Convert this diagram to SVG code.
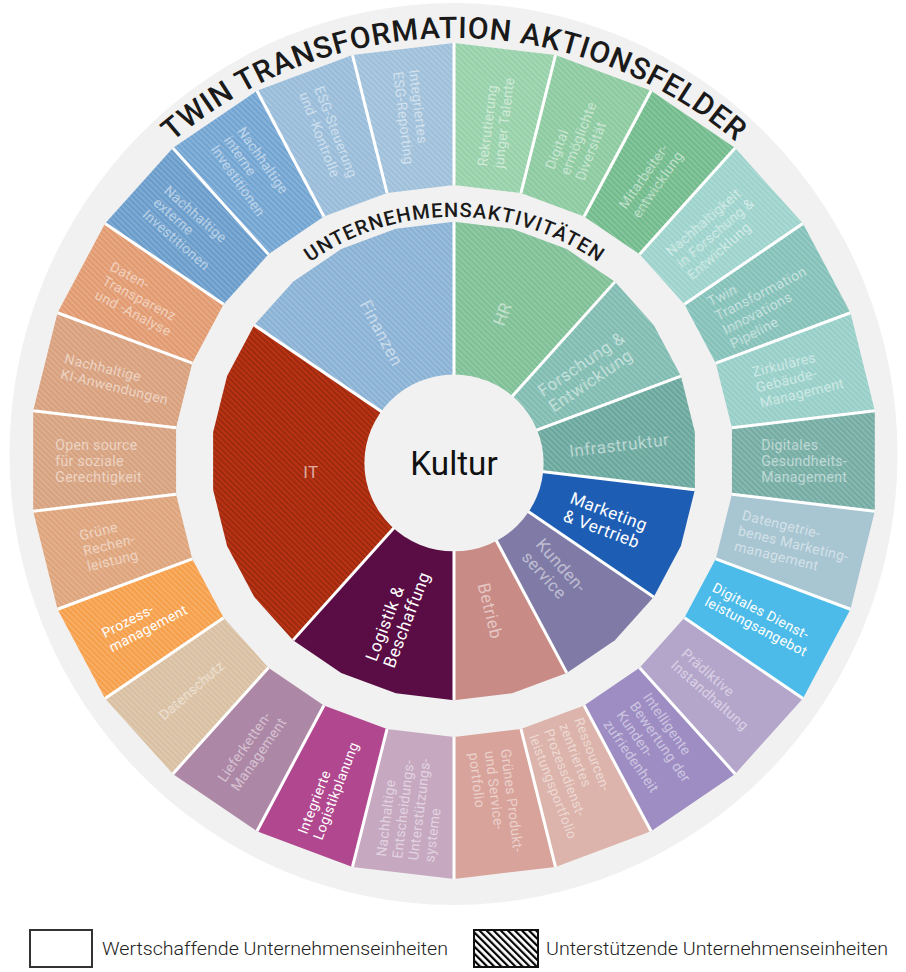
<svg xmlns="http://www.w3.org/2000/svg" width="906" height="972" viewBox="0 0 906 972">
<defs>
<pattern id="hl" width="4" height="4" patternUnits="userSpaceOnUse" patternTransform="rotate(-45)"><rect width="1.5" height="4" fill="#ffffff" fill-opacity="0.17"/></pattern>
<pattern id="hd" width="4" height="4" patternUnits="userSpaceOnUse" patternTransform="rotate(-45)"><rect width="2" height="4" fill="#000000" fill-opacity="0.17"/></pattern>
<pattern id="hb" width="5" height="5" patternUnits="userSpaceOnUse" patternTransform="rotate(-45)"><rect width="5" height="5" fill="#ffffff"/><rect width="2.2" height="5" fill="#000000"/></pattern>
<path id="arcOuter" d="M -426 0 A 426 426 0 0 1 426 0"/>
<path id="arcInner" d="M -246 0 A 246 246 0 0 1 246 0"/>
<style>
.t{font-family:Roboto,"Open Sans","Liberation Sans",sans-serif;font-size:14px;letter-spacing:0.3px;fill:#ffffff;fill-opacity:0.5}
.tb{fill-opacity:1}
.ti{font-size:17px;letter-spacing:0.5px}
.ttl{font-family:Roboto,"Open Sans","Liberation Sans",sans-serif;font-weight:500;fill:#1a1a1a}
.lg{font-family:Roboto,"Liberation Sans",sans-serif;font-weight:300;font-size:18px;fill:#222}
.dv line{stroke:#ffffff;stroke-width:3}
</style>
</defs>
<rect width="906" height="972" fill="#ffffff"/>
<ellipse cx="453.5" cy="454" rx="444" ry="451" fill="#f1f1f1"/>
<g transform="translate(454 461) scale(1.007 0.993)">
<g id="outer-ring">
<g id="o0" fill="#97d1aa"><path id="p0" d="M0 -421L100.8 -408.8L66.5 -269.9L0 -278Z"/><use href="#p0" fill="url(#hl)"/><text class="t" transform="translate(42.1 -346.5) rotate(-83.08)"><tspan x="-51" y="-3">Rekrutierung</tspan><tspan x="-51" y="13">junger Talente</tspan></text></g>
<g id="o1" fill="#8ccaa0"><path id="p1" d="M100.8 -408.8L195.7 -372.8L129.2 -246.2L66.5 -269.9Z"/><use href="#p1" fill="url(#hl)"/><text class="t" transform="translate(123.8 -326.3) rotate(-69.23)"><tspan x="-40" y="-11">Digital</tspan><tspan x="-40" y="5">ermöglichte</tspan><tspan x="-40" y="21">Diversität</tspan></text></g>
<g id="o2" fill="#72bb8c"><path id="p2" d="M195.7 -372.8L279.2 -315.1L184.3 -208.1L129.2 -246.2Z"/><use href="#p2" fill="url(#hl)"/><text class="t" transform="translate(198.3 -287.2) rotate(-55.38)"><tspan x="-44" y="-3">Mitarbeiter-</tspan><tspan x="-44" y="13">entwicklung</tspan></text></g>
<g id="o3" fill="#9dd3cc"><path id="p3" d="M279.2 -315.1L346.5 -239.2L228.8 -157.9L184.3 -208.1Z"/><use href="#p3" fill="url(#hl)"/><text class="t" transform="translate(261.2 -231.4) rotate(-41.54)"><tspan x="-51" y="-11">Nachhaltigkeit</tspan><tspan x="-51" y="5">in Forschung &amp;</tspan><tspan x="-51" y="21">Entwicklung</tspan></text></g>
<g id="o4" fill="#84c1b9"><path id="p4" d="M346.5 -239.2L393.7 -149.3L259.9 -98.6L228.8 -157.9Z"/><use href="#p4" fill="url(#hl)"/><text class="t" transform="translate(309 -162.2) rotate(-27.69)"><tspan x="-51" y="-19">Twin</tspan><tspan x="-51" y="-3">Transformation</tspan><tspan x="-51" y="13">Innovations</tspan><tspan x="-51" y="29">Pipeline</tspan></text></g>
<g id="o5" fill="#97cfc8"><path id="p5" d="M393.7 -149.3L417.9 -50.7L276 -33.5L259.9 -98.6Z"/><use href="#p5" fill="url(#hl)"/><text class="t" transform="translate(338.9 -83.5) rotate(-13.85)"><tspan x="-40" y="-11">Zirkuläres</tspan><tspan x="-40" y="5">Gebäude-</tspan><tspan x="-40" y="21">Management</tspan></text></g>
<g id="o6" fill="#75ada4"><path id="p6" d="M417.9 -50.7L417.9 50.7L276 33.5L276 -33.5Z"/><use href="#p6" fill="url(#hl)"/><text class="t" transform="translate(349 0)"><tspan x="-44" y="-11">Digitales</tspan><tspan x="-44" y="5">Gesundheits-</tspan><tspan x="-44" y="21">Management</tspan></text></g>
<g id="o7" fill="#a8c5d2"><path d="M417.9 50.7L393.7 149.3L259.9 98.6L276 33.5Z"/><text class="t" transform="translate(338.9 83.5) rotate(13.85)"><tspan x="-58" y="-11">Datengetrie-</tspan><tspan x="-58" y="5">benes Marketing-</tspan><tspan x="-58" y="21">management</tspan></text></g>
<g id="o8" fill="#4cbbe9"><path d="M393.7 149.3L346.5 239.2L228.8 157.9L259.9 98.6Z"/><text class="t tb" transform="translate(309 162.2) rotate(27.69)"><tspan x="-62" y="-3">Digitales Dienst-</tspan><tspan x="-62" y="13">leistungsangebot</tspan></text></g>
<g id="o9" fill="#b4a6cb"><path d="M346.5 239.2L279.2 315.1L184.3 208.1L228.8 157.9Z"/><text class="t" transform="translate(261.2 231.4) rotate(41.54)"><tspan x="-51" y="-3">Prädiktive</tspan><tspan x="-51" y="13">Instandhaltung</tspan></text></g>
<g id="o10" fill="#9d8dc3"><path d="M279.2 315.1L195.7 372.8L129.2 246.2L184.3 208.1Z"/><text class="t" transform="translate(198.3 287.2) rotate(55.38)"><tspan x="-47" y="-19">Intelligente</tspan><tspan x="-47" y="-3">Bewertung der</tspan><tspan x="-47" y="13">Kunden-</tspan><tspan x="-47" y="29">zufriedenheit</tspan></text></g>
<g id="o11" fill="#dcb4ab"><path d="M195.7 372.8L100.8 408.8L66.5 269.9L129.2 246.2Z"/><text class="t" style="font-size:13.5px" transform="translate(123.8 326.3) rotate(69.23)"><tspan x="-63" y="-19">Ressourcen-</tspan><tspan x="-63" y="-3">zentriertes</tspan><tspan x="-63" y="13">Prozessdienst-</tspan><tspan x="-63" y="29">leistungsportfolio</tspan></text></g>
<g id="o12" fill="#d8a39a"><path d="M100.8 408.8L0 421L0 278L66.5 269.9Z"/><text class="t" transform="translate(42.1 346.5) rotate(83.08)"><tspan x="-55" y="-11">Grünes Produkt-</tspan><tspan x="-55" y="5">und Service-</tspan><tspan x="-55" y="21">portfolio</tspan></text></g>
<g id="o13" fill="#c6a8c1"><path d="M0 421L-100.8 408.8L-66.5 269.9L0 278Z"/><text class="t" transform="translate(-42.1 346.5) rotate(-83.08)"><tspan x="-55" y="-19">Nachhaltige</tspan><tspan x="-55" y="-3">Entscheidungs-</tspan><tspan x="-55" y="13">Unterstützungs-</tspan><tspan x="-55" y="29">systeme</tspan></text></g>
<g id="o14" fill="#b1478f"><path d="M-100.8 408.8L-195.7 372.8L-129.2 246.2L-66.5 269.9Z"/><text class="t tb" transform="translate(-123.8 326.3) rotate(-69.23)"><tspan x="-55" y="-3">Integrierte</tspan><tspan x="-55" y="13">Logistikplanung</tspan></text></g>
<g id="o15" fill="#ad87a6"><path d="M-195.7 372.8L-279.2 315.1L-184.3 208.1L-129.2 246.2Z"/><text class="t" transform="translate(-198.3 287.2) rotate(-55.38)"><tspan x="-47" y="-3">Lieferketten-</tspan><tspan x="-47" y="13">Management</tspan></text></g>
<g id="o16" fill="#d9c0a2"><path id="p16" d="M-279.2 315.1L-346.5 239.2L-228.8 157.9L-184.3 208.1Z"/><use href="#p16" fill="url(#hl)"/><text class="t" transform="translate(-261.2 231.4) rotate(-41.54)"><tspan x="-40" y="5">Datenschutz</tspan></text></g>
<g id="o17" fill="#f7a04b"><path id="p17" d="M-346.5 239.2L-393.7 149.3L-259.9 98.6L-228.8 157.9Z"/><use href="#p17" fill="url(#hl)"/><text class="t tb" transform="translate(-309 162.2) rotate(-27.69)"><tspan x="-41" y="-3">Prozess-</tspan><tspan x="-41" y="13">management</tspan></text></g>
<g id="o18" fill="#dea47c"><path id="p18" d="M-393.7 149.3L-417.9 50.7L-276 33.5L-259.9 98.6Z"/><use href="#p18" fill="url(#hl)"/><text class="t" transform="translate(-338.9 83.5) rotate(-13.85)"><tspan x="-30" y="-11">Grüne</tspan><tspan x="-30" y="5">Rechen-</tspan><tspan x="-30" y="21">leistung</tspan></text></g>
<g id="o19" fill="#d7a27f"><path id="p19" d="M-417.9 50.7L-417.9 -50.7L-276 -33.5L-276 33.5Z"/><use href="#p19" fill="url(#hl)"/><text class="t" transform="translate(-349 0)"><tspan x="-47" y="-11">Open source</tspan><tspan x="-47" y="5">für soziale</tspan><tspan x="-47" y="21">Gerechtigkeit</tspan></text></g>
<g id="o20" fill="#d8a07d"><path id="p20" d="M-417.9 -50.7L-393.7 -149.3L-259.9 -98.6L-276 -33.5Z"/><use href="#p20" fill="url(#hl)"/><text class="t" transform="translate(-338.9 -83.5) rotate(13.85)"><tspan x="-51" y="-3">Nachhaltige</tspan><tspan x="-51" y="13">KI-Anwendungen</tspan></text></g>
<g id="o21" fill="#e29b71"><path id="p21" d="M-393.7 -149.3L-346.5 -239.2L-228.8 -157.9L-259.9 -98.6Z"/><use href="#p21" fill="url(#hl)"/><text class="t" transform="translate(-309 -162.2) rotate(27.69)"><tspan x="-44" y="-11">Daten-</tspan><tspan x="-44" y="5">Transparenz</tspan><tspan x="-44" y="21">und -Analyse</tspan></text></g>
<g id="o22" fill="#6a9dcb"><path id="p22" d="M-346.5 -239.2L-279.2 -315.1L-184.3 -208.1L-228.8 -157.9Z"/><use href="#p22" fill="url(#hl)"/><text class="t" transform="translate(-261.2 -231.4) rotate(41.54)"><tspan x="-47" y="-11">Nachhaltige</tspan><tspan x="-47" y="5">externe</tspan><tspan x="-47" y="21">Investitionen</tspan></text></g>
<g id="o23" fill="#73a5d2"><path id="p23" d="M-279.2 -315.1L-195.7 -372.8L-129.2 -246.2L-184.3 -208.1Z"/><use href="#p23" fill="url(#hl)"/><text class="t" transform="translate(-198.3 -287.2) rotate(55.38)"><tspan x="-47" y="-11">Nachhaltige</tspan><tspan x="-47" y="5">interne</tspan><tspan x="-47" y="21">Investitionen</tspan></text></g>
<g id="o24" fill="#98bcd9"><path id="p24" d="M-195.7 -372.8L-100.8 -408.8L-66.5 -269.9L-129.2 -246.2Z"/><use href="#p24" fill="url(#hl)"/><text class="t" transform="translate(-123.8 -326.3) rotate(69.23)"><tspan x="-51" y="-3">ESG-Steuerung</tspan><tspan x="-51" y="13">und -Kontrolle</tspan></text></g>
<g id="o25" fill="#9fc0da"><path id="p25" d="M-100.8 -408.8L0 -421L0 -278L-66.5 -269.9Z"/><use href="#p25" fill="url(#hl)"/><text class="t" transform="translate(-42.1 -346.5) rotate(83.08)"><tspan x="-47" y="-3">Integriertes</tspan><tspan x="-47" y="13">ESG-Reporting</tspan></text></g>
</g>
<g id="inner-ring">
<g id="finanzen" fill="#8ab2d5"><path id="pf" d="M0 0L-198.3 -136.9L-159.8 -180.4L-112 -213.4L-57.7 -234L0 -241Z"/><use href="#pf" fill="url(#hl)"/><text class="t ti" transform="translate(-72 -129) rotate(62.3)"><tspan x="0" y="6" text-anchor="middle">Finanzen</tspan></text></g>
<g id="hr" fill="#7fc096"><path id="ph" d="M0 0L0 -241L57.7 -234L112 -213.4L159.8 -180.4Z"/><use href="#ph" fill="url(#hl)"/><text class="t ti" transform="translate(48 -148) rotate(-69.2)"><tspan x="0" y="6" text-anchor="middle">HR</tspan></text></g>
<g id="forschung" fill="#80bcb1"><path id="pfe" d="M0 0L159.8 -180.4L198.3 -136.9L225.3 -85.5Z"/><use href="#pfe" fill="url(#hl)"/><text class="t ti" transform="translate(129 -88) rotate(-34.6)"><tspan x="-47" y="-3.5">Forschung &amp;</tspan><tspan x="-47" y="15.5">Entwicklung</tspan></text></g>
<g id="infrastruktur" fill="#6aa89e"><path id="pi" d="M0 0L225.3 -85.5L239.2 -29L239.2 29Z"/><use href="#pi" fill="url(#hl)"/><text class="t ti" transform="translate(164 -16) rotate(-6.9)"><tspan x="0" y="6" text-anchor="middle">Infrastruktur</tspan></text></g>
<g id="marketing" fill="#1e5db4"><path d="M0 0L239.2 29L225.3 85.5L198.3 136.9Z"/><text class="t ti tb" transform="translate(154 61) rotate(20.8)"><tspan x="-44" y="-3.5">Marketing</tspan><tspan x="-44" y="15.5">&amp; Vertrieb</tspan></text></g>
<g id="kundenservice" fill="#7f7ba6"><path d="M0 0L198.3 136.9L159.8 180.4L112 213.4Z"/><text class="t ti" transform="translate(99 111) rotate(48.5)"><tspan x="-32" y="-3.5">Kunden-</tspan><tspan x="-32" y="15.5">service</tspan></text></g>
<g id="betrieb" fill="#c98b85"><path d="M0 0L112 213.4L57.7 234L0 241Z"/><text class="t ti" transform="translate(36 151) rotate(76.2)"><tspan x="0" y="6" text-anchor="middle">Betrieb</tspan></text></g>
<g id="logistik" fill="#5a0d45"><path d="M0 0L0 241L-57.7 234L-112 213.4L-159.8 180.4Z"/><text class="t ti tb" transform="translate(-57 159) rotate(-69.2)"><tspan x="-48" y="-3.5">Logistik &amp;</tspan><tspan x="-48" y="15.5">Beschaffung</tspan></text></g>
<g id="it" fill="#bb3313"><path id="pit" d="M0 0L-159.8 180.4L-198.3 136.9L-225.3 85.5L-239.2 29L-239.2 -29L-225.3 -85.5L-198.3 -136.9Z"/><use href="#pit" fill="url(#hd)"/><text class="t ti" style="fill-opacity:0.6" transform="translate(-142 11)"><tspan x="0" y="6" text-anchor="middle">IT</tspan></text></g>
</g>
<g id="dividers" class="dv">
<line x1="0" y1="-278" x2="0" y2="-421"/>
<line x1="66.5" y1="-269.9" x2="100.8" y2="-408.8"/>
<line x1="129.2" y1="-246.2" x2="195.7" y2="-372.8"/>
<line x1="184.3" y1="-208.1" x2="279.2" y2="-315.1"/>
<line x1="228.8" y1="-157.9" x2="346.5" y2="-239.2"/>
<line x1="259.9" y1="-98.6" x2="393.7" y2="-149.3"/>
<line x1="276" y1="-33.5" x2="417.9" y2="-50.7"/>
<line x1="276" y1="33.5" x2="417.9" y2="50.7"/>
<line x1="259.9" y1="98.6" x2="393.7" y2="149.3"/>
<line x1="228.8" y1="157.9" x2="346.5" y2="239.2"/>
<line x1="184.3" y1="208.1" x2="279.2" y2="315.1"/>
<line x1="129.2" y1="246.2" x2="195.7" y2="372.8"/>
<line x1="66.5" y1="269.9" x2="100.8" y2="408.8"/>
<line x1="0" y1="278" x2="0" y2="421"/>
<line x1="-66.5" y1="269.9" x2="-100.8" y2="408.8"/>
<line x1="-129.2" y1="246.2" x2="-195.7" y2="372.8"/>
<line x1="-184.3" y1="208.1" x2="-279.2" y2="315.1"/>
<line x1="-228.8" y1="157.9" x2="-346.5" y2="239.2"/>
<line x1="-259.9" y1="98.6" x2="-393.7" y2="149.3"/>
<line x1="-276" y1="33.5" x2="-417.9" y2="50.7"/>
<line x1="-276" y1="-33.5" x2="-417.9" y2="-50.7"/>
<line x1="-259.9" y1="-98.6" x2="-393.7" y2="-149.3"/>
<line x1="-228.8" y1="-157.9" x2="-346.5" y2="-239.2"/>
<line x1="-184.3" y1="-208.1" x2="-279.2" y2="-315.1"/>
<line x1="-129.2" y1="-246.2" x2="-195.7" y2="-372.8"/>
<line x1="-66.5" y1="-269.9" x2="-100.8" y2="-408.8"/>
<line x1="0" y1="0" x2="0" y2="-241"/>
<line x1="0" y1="0" x2="159.8" y2="-180.4"/>
<line x1="0" y1="0" x2="225.3" y2="-85.5"/>
<line x1="0" y1="0" x2="239.2" y2="29"/>
<line x1="0" y1="0" x2="198.3" y2="136.9"/>
<line x1="0" y1="0" x2="112" y2="213.4"/>
<line x1="0" y1="0" x2="0" y2="241"/>
<line x1="0" y1="0" x2="-159.8" y2="180.4"/>
<line x1="0" y1="0" x2="-198.3" y2="-136.9"/>
</g>
<g id="kultur">
<circle cx="0" cy="2" r="89" fill="#f1f1f1"/>
<text x="0" y="14" text-anchor="middle" style="font-family:Roboto,'Open Sans','Liberation Sans',sans-serif;font-size:33px;font-weight:400;fill:#111">Kultur</text>
</g>
<g id="titles">
<text class="ttl" style="font-size:30px"><textPath href="#arcOuter" startOffset="50%" text-anchor="middle" textLength="610" lengthAdjust="spacing">TWIN TRANSFORMATION AKTIONSFELDER</textPath></text>
<text class="ttl" style="font-size:20px"><textPath href="#arcInner" startOffset="50%" text-anchor="middle" textLength="305" lengthAdjust="spacing">UNTERNEHMENSAKTIVITÄTEN</textPath></text>
</g>
</g>
<g id="legend">
<g id="legend-value"><rect x="30" y="930" width="62" height="37" fill="#ffffff" stroke="#333" stroke-width="2"/><text class="lg" x="102" y="955" textLength="346" lengthAdjust="spacingAndGlyphs">Wertschaffende Unternehmenseinheiten</text></g>
<g id="legend-support"><rect x="474" y="930" width="64" height="37" fill="url(#hb)" stroke="#111" stroke-width="2"/><text class="lg" x="546" y="955" textLength="342" lengthAdjust="spacingAndGlyphs">Unterstützende Unternehmenseinheiten</text></g>
</g>
</svg>
